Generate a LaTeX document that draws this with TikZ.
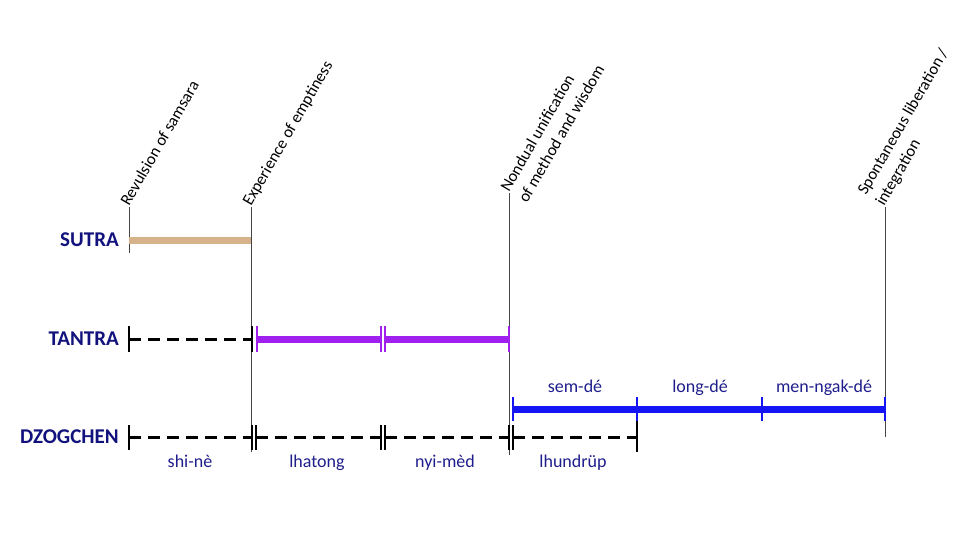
\documentclass[tikz,border=0pt]{standalone}
\usepackage{fontspec}
\setmainfont{Carlito}
\definecolor{navy}{RGB}{18,18,125}
\definecolor{phasecol}{RGB}{30,30,140}
\definecolor{tanbar}{RGB}{214,178,138}
\definecolor{purp}{RGB}{160,32,240}
\definecolor{bluebar}{RGB}{20,20,245}
\definecolor{guide}{RGB}{70,70,70}
\begin{document}
\begin{tikzpicture}[x=1pt,y=-1pt,
  rowlabel/.style={font=\fontsize{21}{25}\selectfont\bfseries, text=navy, anchor=east, inner sep=0pt},
  phase/.style={font=\fontsize{18}{22}\selectfont, text=phasecol, anchor=base, inner sep=0pt},
  milestone/.style={font=\fontsize{16.5}{20}\selectfont, text=black, rotate=60, anchor=base west, inner sep=0pt},
  guideline/.style={draw=guide, line width=0.8pt},
  dashbar/.style={draw=black, line width=3pt, dash pattern=on 12pt off 7pt},
  blacktick/.style={draw=black, line width=1.3pt},
  purptick/.style={draw=purp, line width=2pt},
  bluetick/.style={draw=bluebar, line width=2.5pt},
  tanline/.style={draw=tanbar, line width=7pt},
  purpline/.style={draw=purp, line width=7pt},
  blueline/.style={draw=bluebar, line width=7pt}
]
\useasboundingbox (0,0) rectangle (960,540);

% guide lines with milestone labels
\coordinate (g1top) at (129,207); \coordinate (g1bot) at (129,253);
\coordinate (g2top) at (251,207); \coordinate (g2bot) at (251,452);
\coordinate (g3top) at (509,193); \coordinate (g3bot) at (509,455);
\coordinate (g4top) at (885,207); \coordinate (g4bot) at (885,437);
\draw[guideline] (g1top) -- (g1bot);
\draw[guideline] (g2top) -- (g2bot);
\draw[guideline] (g3top) -- (g3bot);
\draw[guideline] (g4top) -- (g4bot);

\node[milestone] (m1) at (g1top) {Revulsion of samsara};
\node[milestone] (m2) at (g2top) {Experience of emptiness};
\node[milestone] (m3a) at (g3top) {Nondual unification};
\node[milestone] (m3b) at (527,204) {of method and wisdom};
\node[milestone] (m4a) at (866,196) {Spontaneous liberation /};
\node[milestone] (m4b) at (884,207) {integration};

% row labels
\node[rowlabel] (sutra) at (119,240) {SUTRA};
\node[rowlabel] (tantra) at (119,339) {TANTRA};
\node[rowlabel] (dzog) at (119,437) {DZOGCHEN};

% SUTRA row
\coordinate (s0) at (129,240); \coordinate (s1) at (251,240);
\draw[tanline] (s0) -- (s1);

% TANTRA row
\coordinate (t0) at (129,339); \coordinate (t1) at (252,339);
\coordinate (t2) at (257,339); \coordinate (t3) at (381,339);
\coordinate (t4) at (385,339); \coordinate (t5) at (509,339);
\draw[dashbar] (t0) -- (t1);
\draw[blacktick] (t0) ++(0,-13) -- ++(0,26);
\draw[blacktick] (t1) ++(0,-13) -- ++(0,26);
\draw[purpline] (t2) -- (t3);
\draw[purpline] (t4) -- (t5);
\draw[purptick] (t2) ++(0,-13) -- ++(0,26);
\draw[purptick] (t3) ++(0,-13) -- ++(0,26);
\draw[purptick] (t4) ++(0,-13) -- ++(0,26);
\draw[purptick] (t5) ++(0,-13) -- ++(0,26);

% DZOGCHEN row (dashed)
\coordinate (d0) at (129,437); \coordinate (d1) at (252,437);
\coordinate (d2) at (256,437); \coordinate (d3) at (381,437);
\coordinate (d4) at (385,437); \coordinate (d5) at (509,437);
\coordinate (d6) at (513,437); \coordinate (d7) at (637,437);
\draw[dashbar] (d0) -- (d1);
\draw[dashbar] (d2) -- (d3);
\draw[dashbar] (d4) -- (d5);
\draw[dashbar] (d6) -- (d7);
\foreach \p in {d0,d1,d2,d3,d4,d5,d6}{
  \draw[blacktick] (\p) ++(0,-12) -- ++(0,25);
}
\draw[blacktick] (d7) ++(0,-22) -- ++(0,37);

% DZOGCHEN row (blue)
\coordinate (b0) at (513,409); \coordinate (b1) at (637,409);
\coordinate (b2) at (762,409); \coordinate (b3) at (885,409);
\draw[blueline] (b0) -- (b1);
\draw[blueline] (b1) -- (b2);
\draw[blueline] (b2) -- (b3);
\foreach \p in {b0,b1,b2,b3}{
  \draw[bluetick] (\p) ++(0,-12) -- ++(0,24);
}

% phase labels
\node[phase] (p1) at (575,392) {sem-dé};
\node[phase] (p2) at (700,392) {long-dé};
\node[phase] (p3) at (824,392) {men-ngak-dé};
\node[phase] (q1) at (190,467) {shi-nè};
\node[phase] (q2) at (317,467) {lhatong};
\node[phase] (q3) at (445,467) {nyi-mèd};
\node[phase] (q4) at (573,467) {lhundrüp};
\end{tikzpicture}
\end{document}
